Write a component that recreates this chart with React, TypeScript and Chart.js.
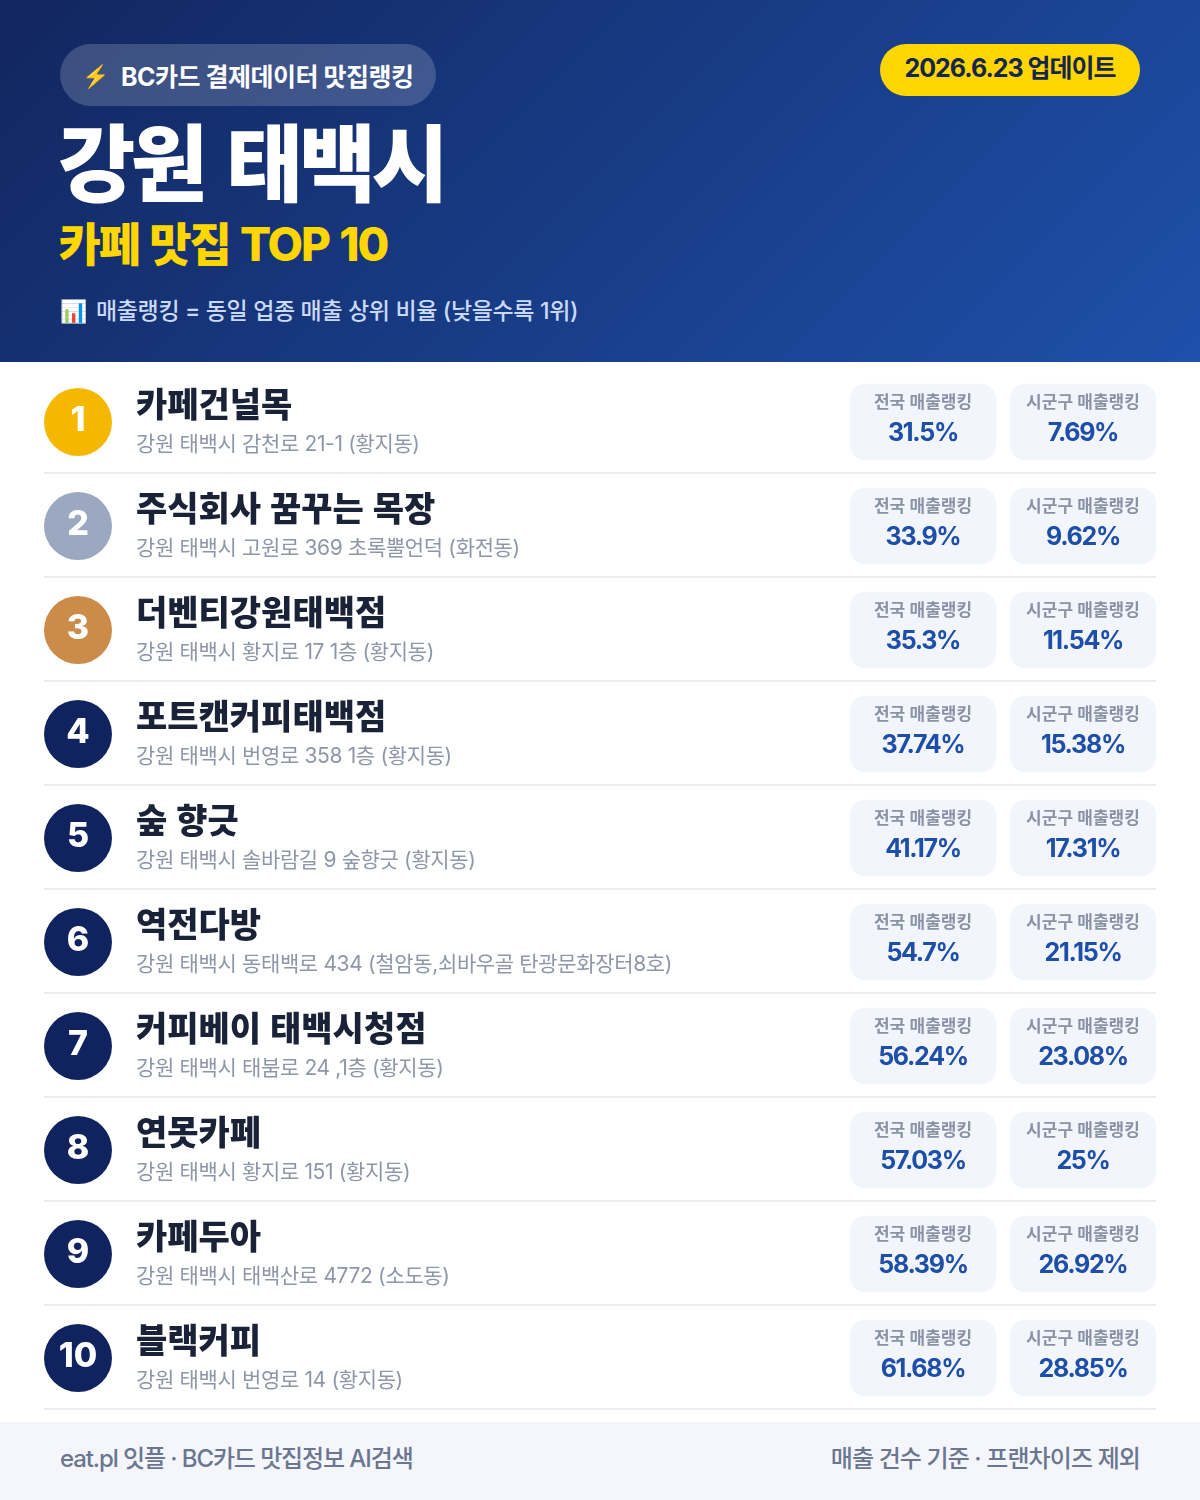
import React, { useEffect, useRef } from "react";
import { Chart, registerables } from "chart.js";

Chart.register(...registerables);

const ranks = ["1", "2", "3", "4", "5", "6", "7", "8", "9", "10"];
const names = [
  "카페건널목",
  "주식회사 꿈꾸는 목장",
  "더벤티강원태백점",
  "포트캔커피태백점",
  "숲 향긋",
  "역전다방",
  "커피베이 태백시청점",
  "연못카페",
  "카페두아",
  "블랙커피",
];
const addresses = [
  "강원 태백시 감천로 21-1 (황지동)",
  "강원 태백시 고원로 369 초록뿔언덕 (화전동)",
  "강원 태백시 황지로 17 1층 (황지동)",
  "강원 태백시 번영로 358 1층 (황지동)",
  "강원 태백시 솔바람길 9 숲향긋 (황지동)",
  "강원 태백시 동태백로 434 (철암동,쇠바우골 탄광문화장터8호)",
  "강원 태백시 태붐로 24 ,1층 (황지동)",
  "강원 태백시 황지로 151 (황지동)",
  "강원 태백시 태백산로 4772 (소도동)",
  "강원 태백시 번영로 14 (황지동)",
];
const nationalRank = ["31.5%", "33.9%", "35.3%", "37.74%", "41.17%", "54.7%", "56.24%", "57.03%", "58.39%", "61.68%"];
const districtRank = ["7.69%", "9.62%", "11.54%", "15.38%", "17.31%", "21.15%", "23.08%", "25%", "26.92%", "28.85%"];
const nationalLabel = "전국 매출랭킹";
const districtLabel = "시군구 매출랭킹";

const FONT = 'Inter, "Noto Sans CJK KR", sans-serif';
const medalColors = ["#F4B800", "#9BA8BF", "#CB8B49"];
const NAVY = "#10235E";
const CIRCLE_X = 78;
const TEXT_X = 136;
const CARD_A: [number, number] = [850, 996];
const CARD_B: [number, number] = [1010, 1156];

// separators under each row, 2px thick and one pixel above the grid position
const rowLines = {
  id: "rowLines",
  beforeDatasetsDraw(chart: Chart) {
    const { ctx, chartArea, scales } = chart;
    ctx.save();
    ctx.fillStyle = "#EBEDF1";
    names.forEach((_, i) => {
      ctx.fillRect(chartArea.left, scales.y.getPixelForValue(i) + 50, chartArea.width, 2);
    });
    ctx.restore();
  },
};

// draws the row texts on top of the marks, placed with the chart's own scales
const rowText = {
  id: "rowText",
  afterDatasetsDraw(chart: Chart) {
    const { ctx, scales } = chart;
    const x = scales.x;
    const y = scales.y;
    const put = (s: string, px: number, py: number, font: string, color: string, align: CanvasTextAlign, spacing = 0, words = 0) => {
      ctx.font = font;
      ctx.fillStyle = color;
      ctx.textAlign = align;
      ctx.textBaseline = "middle";
      (ctx as any).letterSpacing = `${spacing}px`;
      (ctx as any).wordSpacing = `${words}px`;
      ctx.fillText(s, px, py);
    };
    ctx.save();
    names.forEach((name, i) => {
      const cy = y.getPixelForValue(i);
      const midA = x.getPixelForValue((CARD_A[0] + CARD_A[1]) / 2);
      const midB = x.getPixelForValue((CARD_B[0] + CARD_B[1]) / 2);
      put(ranks[i], x.getPixelForValue(CIRCLE_X), cy - 1, `800 34px ${FONT}`, "#ffffff", "center");
      put(name, x.getPixelForValue(TEXT_X), cy - 15, `800 34px ${FONT}`, "#1A2238", "left", 0, 1.5);
      put(addresses[i], x.getPixelForValue(TEXT_X), cy + 23, `400 21px ${FONT}`, "#8E97A8", "left", -0.35);
      put(nationalLabel, midA, cy - 19, `600 17px ${FONT}`, "#8A93A5", "center");
      put(nationalRank[i], midA, cy + 11, `700 25px ${FONT}`, "#1E4FA8", "center", -1.3);
      put(districtLabel, midB, cy - 19, `600 17px ${FONT}`, "#8A93A5", "center");
      put(districtRank[i], midB, cy + 11, `700 25px ${FONT}`, "#1E4FA8", "center", -1.3);
    });
    ctx.restore();
  },
};

const abs = (left: number, top: number, extra: React.CSSProperties): React.CSSProperties => ({
  position: "absolute",
  left,
  top,
  whiteSpace: "nowrap",
  fontFamily: FONT,
  ...extra,
});

const App: React.FC = () => {
  const chartRef = useRef<HTMLCanvasElement>(null);

  useEffect(() => {
    if (!chartRef.current) return;
    const chart = new Chart(chartRef.current, {
      data: {
        labels: names,
        datasets: [
          {
            type: "bar",
            indexAxis: "y",
            grouped: false,
            data: names.map(() => CARD_A),
            backgroundColor: "#F2F5FC",
            borderRadius: 16,
            borderSkipped: false,
            barThickness: 76,
          },
          {
            type: "bar",
            indexAxis: "y",
            grouped: false,
            data: names.map(() => CARD_B),
            backgroundColor: "#F2F5FC",
            borderRadius: 16,
            borderSkipped: false,
            barThickness: 76,
          },
          {
            type: "bubble",
            data: names.map((n) => ({ x: CIRCLE_X, y: n, r: 34 })),
            backgroundColor: names.map((_, i) => medalColors[i] || NAVY),
            borderWidth: 0,
            clip: false,
          },
        ],
      } as any,
      options: {
        responsive: false,
        animation: false,
        events: [],
        layout: { autoPadding: false, padding: { left: 44, right: 44, top: 8, bottom: 12 } },
        plugins: { legend: { display: false }, tooltip: { enabled: false } },
        scales: {
          x: { type: "linear", min: 44, max: 1156, display: false },
          y: { type: "category", offset: true, display: false },
        },
      } as any,
      plugins: [rowLines, rowText],
    });
    return () => chart.destroy();
  }, []);

  return (
    <div style={{ position: "absolute", left: 0, top: 0, width: 1200, height: 1500, overflow: "hidden", background: "#fff" }}>
      <div
        style={{
          position: "absolute",
          left: 0,
          top: 0,
          width: 1200,
          height: 362,
          background: "linear-gradient(135deg, #12265F 0%, #1E50AA 100%)",
        }}
      >
        <div style={{ position: "absolute", left: 60, top: 44, width: 376, height: 62, borderRadius: 31, background: "rgba(255,255,255,0.18)" }} />
        <div style={abs(82, 45, { fontSize: 22, lineHeight: "62px" })}>⚡</div>
        <div style={abs(121, 46, { fontSize: 25, fontWeight: 700, lineHeight: "62px", color: "#fff", letterSpacing: -0.5 })}>BC카드 결제데이터 맛집랭킹</div>
        <div style={abs(58, 107, { fontSize: 84, fontWeight: 800, lineHeight: "116px", color: "#fff", letterSpacing: -4.5, wordSpacing: 8.5 })}>강원 태백시</div>
        <div style={abs(58.5, 214, { fontSize: 46, fontWeight: 800, lineHeight: "60px", color: "#FFD600", letterSpacing: -2, wordSpacing: 2 })}>카페 맛집 TOP 10</div>
        <div style={abs(60, 291, { fontSize: 22, lineHeight: "40px" })}>📊</div>
        <div style={abs(96, 291, { fontSize: 23, fontWeight: 500, lineHeight: "40px", color: "#C9D9F7", letterSpacing: -0.35 })}>매출랭킹 = 동일 업종 매출 상위 비율 (낮을수록 1위)</div>
        <div
          style={abs(880, 44, {
            width: 260,
            height: 52,
            borderRadius: 26,
            background: "#FFD600",
            color: "#14264F",
            fontSize: 25,
            fontWeight: 700,
            lineHeight: "48px",
            textAlign: "center",
            letterSpacing: -1,
          })}
        >
          2026.6.23 업데이트
        </div>
      </div>

      <div style={{ position: "absolute", left: 0, top: 362, width: 1200, height: 1060 }}>
        <canvas ref={chartRef} width={1200} height={1060} />
      </div>

      <div style={{ position: "absolute", left: 0, top: 1422, width: 1200, height: 78, background: "#F4F6FB" }}>
        <div style={abs(60, 0, { fontSize: 24, fontWeight: 500, lineHeight: "74px", color: "#6B7690", letterSpacing: -1.1 })}>eat.pl 잇플 · BC카드 맛집정보 AI검색</div>
        <div style={{ ...abs(0, 0, { fontSize: 24, fontWeight: 500, lineHeight: "74px", color: "#6B7690", letterSpacing: -0.9 }), left: "auto", right: 60 }}>매출 건수 기준 · 프랜차이즈 제외</div>
      </div>
    </div>
  );
};

export default App;
